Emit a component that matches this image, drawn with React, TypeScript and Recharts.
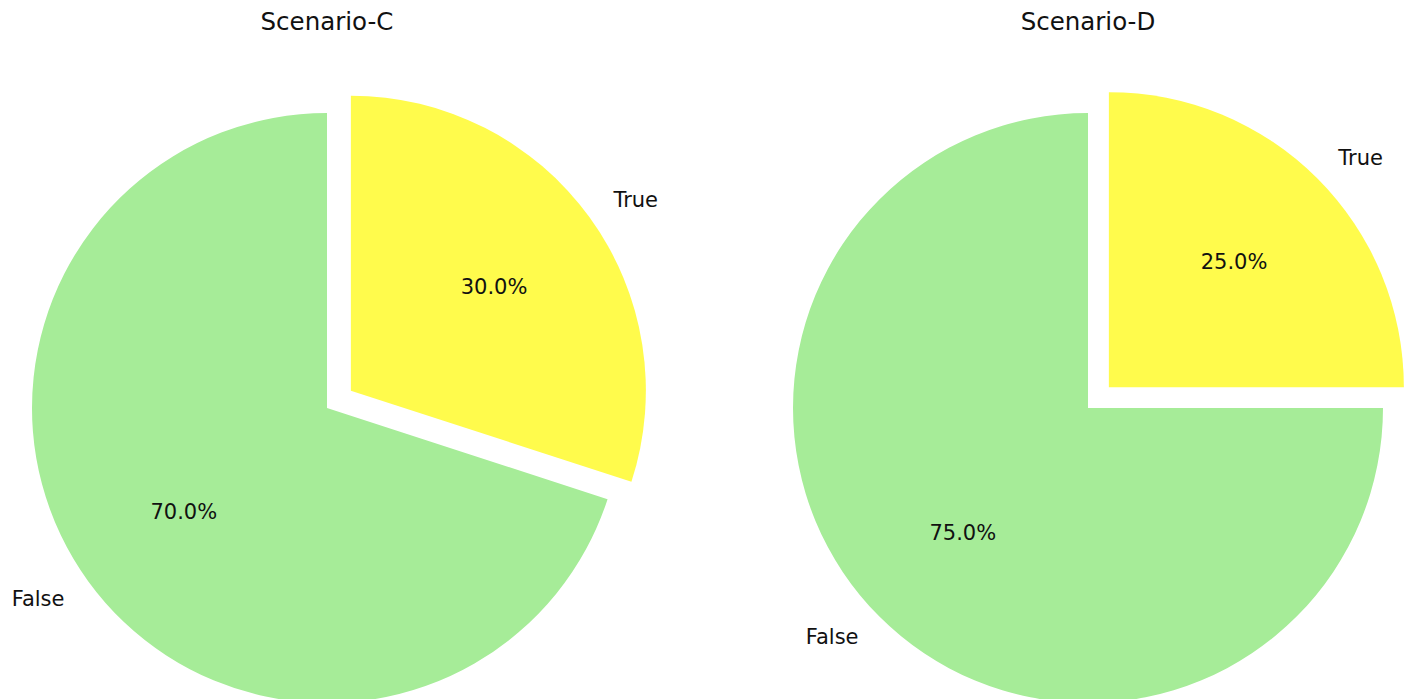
import React from 'react';
import { PieChart, Pie, Cell } from 'recharts';

// Outcome categories, in drawing order (clockwise from 12 o'clock)
const outcomes = ['True', 'False'];
const scenarioNames = ['Scenario-C', 'Scenario-D'];
const scenarioCValues = [30, 70];
const scenarioDValues = [25, 75];
const outcomeColors = ['#fffb4c', '#a6ec98'];

const WIDTH = 1412;
const HEIGHT = 699;
const RADIUS = 295;
const EXPLODE = 0.1; // fraction of radius the "True" wedge is pulled out
const CENTERS_X = [327, 1088];
const CENTER_Y = 408;
const FONT = '"DejaVu Sans", Verdana, sans-serif';
const TEXT_COLOR = '#111';
const RAD = Math.PI / 180;

const buildRows = (values: number[]) =>
  outcomes.map((name, i) => ({ name, value: values[i] }));

const makeLabel = (visibleIndex: number) => (props: any) => {
  const { cx, cy, midAngle, outerRadius, index, percent, name } = props;
  if (index !== visibleIndex) return null;
  const cos = Math.cos(-midAngle * RAD);
  const sin = Math.sin(-midAngle * RAD);
  const nx = cx + outerRadius * 1.1 * cos;
  const ny = cy + outerRadius * 1.1 * sin;
  const px = cx + outerRadius * 0.6 * cos;
  const py = cy + outerRadius * 0.6 * sin;
  return (
    <g>
      <text
        x={nx}
        y={ny}
        textAnchor={cos >= 0 ? 'start' : 'end'}
        dominantBaseline="central"
        fontFamily={FONT}
        fontSize={21}
        fill={TEXT_COLOR}
      >
        {name}
      </text>
      <text
        x={px}
        y={py}
        textAnchor="middle"
        dominantBaseline="central"
        fontFamily={FONT}
        fontSize={21}
        fill={TEXT_COLOR}
      >
        {`${(percent * 100).toFixed(1)}%`}
      </text>
    </g>
  );
};

const renderScenario = (values: number[], cx: number, key: string) => {
  const rows = buildRows(values);
  const total = values.reduce((a, b) => a + b, 0);
  // mid-angle of the "True" wedge, measured counter-clockwise from 3 o'clock
  const mid = 90 - (180 * values[0]) / total;
  const dx = EXPLODE * RADIUS * Math.cos(mid * RAD);
  const dy = -EXPLODE * RADIUS * Math.sin(mid * RAD);
  return [
    <Pie
      key={`${key}-base`}
      data={rows}
      dataKey="value"
      nameKey="name"
      cx={cx}
      cy={CENTER_Y}
      outerRadius={RADIUS}
      startAngle={90}
      endAngle={-270}
      stroke="none"
      labelLine={false}
      label={makeLabel(1)}
      isAnimationActive={false}
    >
      {rows.map((r, i) => (
        <Cell key={r.name} fill={i === 1 ? outcomeColors[1] : 'none'} />
      ))}
    </Pie>,
    <Pie
      key={`${key}-explode`}
      data={rows}
      dataKey="value"
      nameKey="name"
      cx={cx + dx}
      cy={CENTER_Y + dy}
      outerRadius={RADIUS}
      startAngle={90}
      endAngle={-270}
      stroke="none"
      labelLine={false}
      label={makeLabel(0)}
      isAnimationActive={false}
    >
      {rows.map((r, i) => (
        <Cell key={r.name} fill={i === 0 ? outcomeColors[0] : 'none'} />
      ))}
    </Pie>,
  ];
};

export default function App() {
  return (
    <div style={{ position: 'absolute', left: 0, top: 0, background: '#fff' }}>
      <PieChart width={WIDTH} height={HEIGHT} margin={{ top: 0, right: 0, bottom: 0, left: 0 }}>
        {renderScenario(scenarioCValues, CENTERS_X[0], 'c')}
        {renderScenario(scenarioDValues, CENTERS_X[1], 'd')}
        {scenarioNames.map((t, i) => (
          <text
            key={t}
            x={CENTERS_X[i]}
            y={30}
            textAnchor="middle"
            fontFamily={FONT}
            fontSize={24.5}
            fill={TEXT_COLOR}
          >
            {t}
          </text>
        ))}
      </PieChart>
    </div>
  );
}
